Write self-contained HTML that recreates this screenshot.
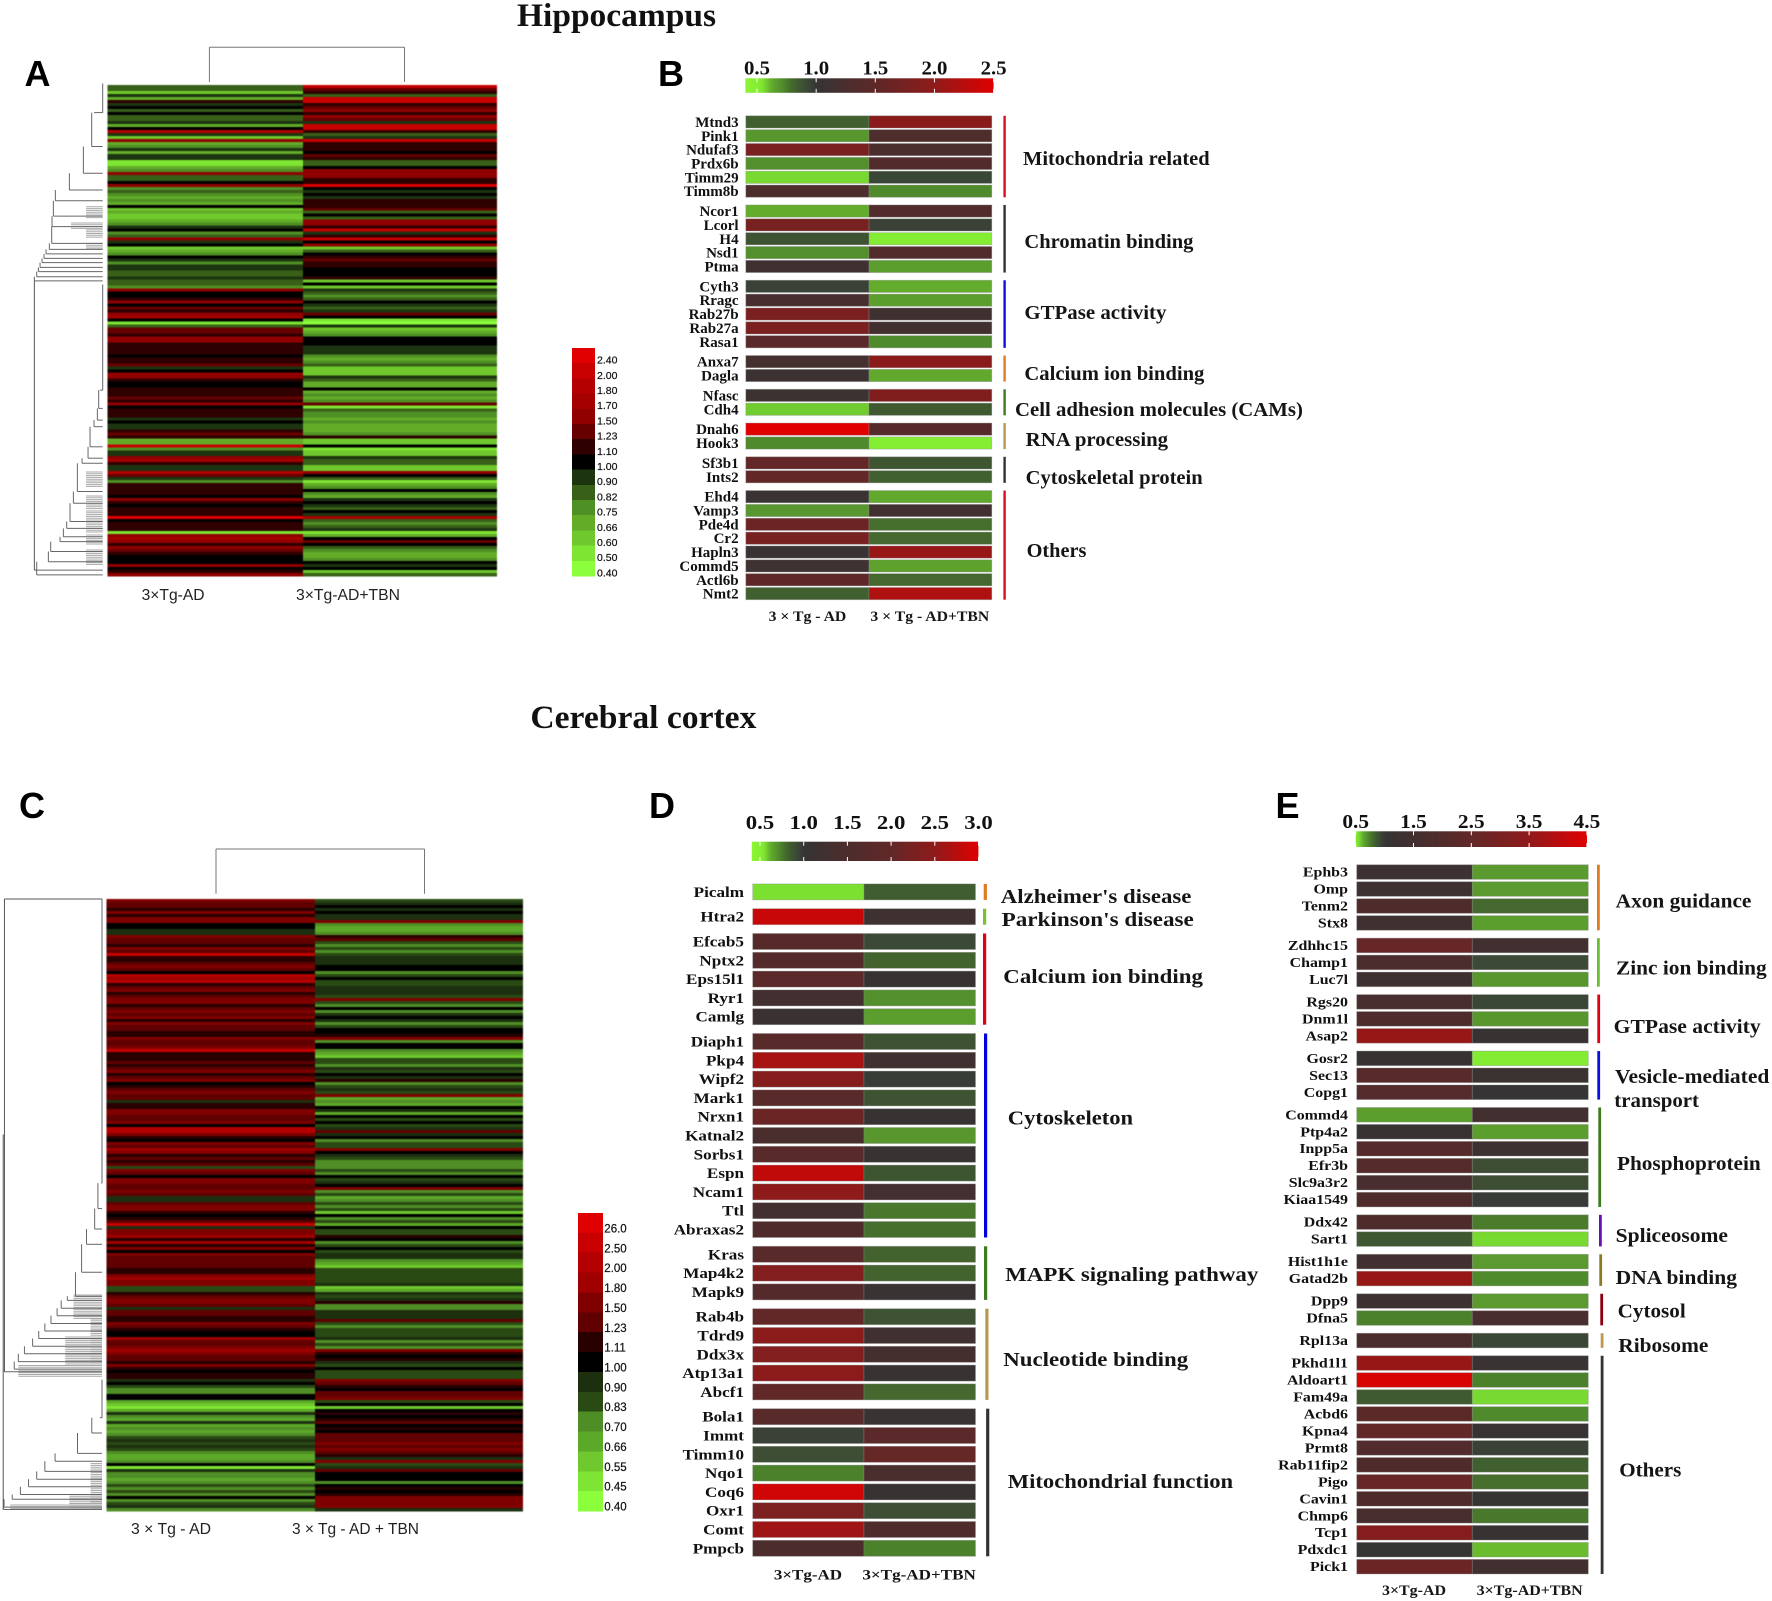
<!DOCTYPE html>
<html lang="en">
<head>
<meta charset="utf-8">
<title>Hippocampus and cerebral cortex expression heatmaps</title>
<style>
html,body{margin:0;padding:0;background:#fff;width:1772px;height:1601px;overflow:hidden}
svg{display:block}
.title{font:bold 33px "Liberation Serif",serif;fill:#111}
.letter{font:bold 36px "Liberation Sans",sans-serif;fill:#000}
.cat{font:bold 20px "Liberation Serif",serif;fill:#151515}
.foot{font:bold 14.5px "Liberation Serif",serif;fill:#151515}
.col{font:15.5px "Liberation Sans",sans-serif;fill:#222}
</style>
</head>
<body>
<svg id="figure" xmlns="http://www.w3.org/2000/svg" width="1772" height="1601" viewBox="0 0 1772 1601">
<rect x="0" y="0" width="1772" height="1601" fill="#fff"/>
<text class="title" x="517" y="26" textLength="199" lengthAdjust="spacingAndGlyphs">Hippocampus</text>
<text class="title" x="530.4" y="728" textLength="226" lengthAdjust="spacingAndGlyphs">Cerebral cortex</text>
<text class="letter" x="24.5" y="86">A</text>
<text class="letter" x="658" y="86">B</text>
<text class="letter" x="19" y="818">C</text>
<text class="letter" x="649" y="818">D</text>
<text class="letter" x="1275.5" y="818">E</text>

<text class="col" x="141.6" y="600" textLength="63" lengthAdjust="spacingAndGlyphs">3×Tg-AD</text>
<text class="col" x="296" y="600" textLength="104" lengthAdjust="spacingAndGlyphs">3×Tg-AD+TBN</text>
<text class="col" x="131" y="1534" textLength="80" lengthAdjust="spacingAndGlyphs">3 × Tg - AD</text>
<text class="col" x="292" y="1534" textLength="127" lengthAdjust="spacingAndGlyphs">3 × Tg - AD + TBN</text>

<g>
<text class="cat" x="1023" y="165" textLength="186.6" lengthAdjust="spacingAndGlyphs">Mitochondria related</text>
<text class="cat" x="1024.4" y="248" textLength="169" lengthAdjust="spacingAndGlyphs">Chromatin binding</text>
<text class="cat" x="1024.4" y="319" textLength="142" lengthAdjust="spacingAndGlyphs">GTPase activity</text>
<text class="cat" x="1024.4" y="380" textLength="180" lengthAdjust="spacingAndGlyphs">Calcium ion binding</text>
<text class="cat" x="1015" y="416" textLength="287.9" lengthAdjust="spacingAndGlyphs">Cell adhesion molecules (CAMs)</text>
<text class="cat" x="1025.7" y="446" textLength="142.4" lengthAdjust="spacingAndGlyphs">RNA processing</text>
<text class="cat" x="1025.7" y="484" textLength="177" lengthAdjust="spacingAndGlyphs">Cytoskeletal protein</text>
<text class="cat" x="1026.6" y="557" textLength="59.8" lengthAdjust="spacingAndGlyphs">Others</text>
<text class="foot" x="768.6" y="621" textLength="77.7" lengthAdjust="spacingAndGlyphs">3 × Tg - AD</text>
<text class="foot" x="870.4" y="621" textLength="118.8" lengthAdjust="spacingAndGlyphs">3 × Tg - AD+TBN</text>
</g>

<g>
<text class="cat" x="1000.8" y="903" textLength="190.6" lengthAdjust="spacingAndGlyphs">Alzheimer's disease</text>
<text class="cat" x="1001.6" y="926" textLength="192.2" lengthAdjust="spacingAndGlyphs">Parkinson's disease</text>
<text class="cat" x="1003.3" y="983" textLength="199.6" lengthAdjust="spacingAndGlyphs">Calcium ion binding</text>
<text class="cat" x="1007.8" y="1124.5" textLength="125.3" lengthAdjust="spacingAndGlyphs">Cytoskeleton</text>
<text class="cat" x="1005.3" y="1281" textLength="253" lengthAdjust="spacingAndGlyphs">MAPK signaling pathway</text>
<text class="cat" x="1003.3" y="1366" textLength="184.9" lengthAdjust="spacingAndGlyphs">Nucleotide binding</text>
<text class="cat" x="1007.8" y="1488" textLength="225.3" lengthAdjust="spacingAndGlyphs">Mitochondrial function</text>
<text class="foot" x="773.9" y="1579.5" textLength="68.2" lengthAdjust="spacingAndGlyphs">3×Tg-AD</text>
<text class="foot" x="862.4" y="1579.5" textLength="113.5" lengthAdjust="spacingAndGlyphs">3×Tg-AD+TBN</text>
</g>

<g>
<text class="cat" x="1615.7" y="907.5" textLength="135.7" lengthAdjust="spacingAndGlyphs">Axon guidance</text>
<text class="cat" x="1616" y="974.5" textLength="150.7" lengthAdjust="spacingAndGlyphs">Zinc ion binding</text>
<text class="cat" x="1613.7" y="1033" textLength="147" lengthAdjust="spacingAndGlyphs">GTPase activity</text>
<text class="cat" x="1615" y="1083" textLength="154.3" lengthAdjust="spacingAndGlyphs">Vesicle-mediated</text>
<text class="cat" x="1614.3" y="1107" textLength="84.7" lengthAdjust="spacingAndGlyphs">transport</text>
<text class="cat" x="1617" y="1170" textLength="143.7" lengthAdjust="spacingAndGlyphs">Phosphoprotein</text>
<text class="cat" x="1615.7" y="1242" textLength="112.3" lengthAdjust="spacingAndGlyphs">Spliceosome</text>
<text class="cat" x="1615.7" y="1284" textLength="121.3" lengthAdjust="spacingAndGlyphs">DNA binding</text>
<text class="cat" x="1617.7" y="1317.5" textLength="68" lengthAdjust="spacingAndGlyphs">Cytosol</text>
<text class="cat" x="1618.3" y="1352" textLength="90" lengthAdjust="spacingAndGlyphs">Ribosome</text>
<text class="cat" x="1619.3" y="1476.5" textLength="62" lengthAdjust="spacingAndGlyphs">Others</text>
<text class="foot" x="1382" y="1595" textLength="64" lengthAdjust="spacingAndGlyphs">3×Tg-AD</text>
<text class="foot" x="1476.7" y="1595" textLength="106" lengthAdjust="spacingAndGlyphs">3×Tg-AD+TBN</text>
</g>
</svg>

<script>
/* ---------- heatmap legends ---------- */
const heatColors = ['#e00000','#c80000','#b40000','#a40000','#900000','#660000','#2e0000','#000000','#1c3410','#386018','#4f9024','#62ac28','#6fc82c','#7ee632','#8cff3c'];
const cHeatColors = ['#e00000','#c80000','#b40000','#a00000','#800000','#600000','#280000','#000000','#1c3010','#2a4a14','#4f8e26','#5ca828','#6ec82e','#7ee632','#8cff3c'];
const aLegendLabels = ['2.40','2.00','1.80','1.70','1.50','1.23','1.10','1.00','0.90','0.82','0.75','0.66','0.60','0.50','0.40'];
const cLegendLabels = ['26.0','2.50','2.00','1.80','1.50','1.23','1.11','1.00','0.90','0.83','0.70','0.66','0.55','0.45','0.40'];

/* ---------- panel A heatmap rows ---------- */
const aControl = [.82,.82,.6,.9,.7,1.1,.9,1,.82,1,.82,.82,.9,.66,1,1.8,.9,.6,1.5,.66,.75,.9,.66,.9,.9,.5,.5,.66,.75,1.5,.82,.82,1,1.5,.75,.82,.75,.66,.75,.66,1,.6,.66,.6,.6,.66,.75,.9,1,.75,.82,1.5,.9,1,.6,.66,.75,1,.9,.75,.9,.9,.82,.82,.9,
.82,.82,.75,1.5,1,1,1.1,1.5,1,1.23,1.1,1.5,1.7,1,.5,.82,1.23,1.23,1.1,1.5,1.5,1.1,1.1,1.1,1.1,1,1.1,1.1,1.23,.9,1,1.5,1.5,1.1,1,1,1.1,1.1,1.1,1.23,1.1,1.5,1,1.1,1.1,1.1,.9,1,.9,.9,1.1,1.23,1.1,.66,.66,2,.75,.9,.9,1.5,1.7,1.1,.9,.9,1.8,1.23,.9,.75,1.1,1.1,1.1,1.1,1,1.5,1.1,1,1.1,1.1,1.1,2.4,1,1.1,1.1,1.1,.5,1.5,1.7,1.5,1.1,1.5,1.23,1.1,1,1,1,1.5,1,1.1,1.5];
const aTreated = [2,1.23,1.1,.82,2,2,1.1,1.23,1.5,1.1,1.5,1.23,.9,2,2,1.1,.82,.9,2,1.1,1.1,1.1,1,1.23,1.1,.82,.82,1,1.5,1.5,1.5,1.1,1.1,2.4,1,.9,1,.9,1.1,1.1,1.1,1.23,.82,1,.82,1.5,1.5,1.1,2,.9,1.1,2,1,1.5,.6,.82,1,1.1,1.23,1.1,1.1,1,1,1,1.1,
.6,1,.6,.9,.82,.75,.82,1,.9,.82,.9,1.23,1,.5,.4,.9,.6,.7,.75,1,1,1,.9,.9,.9,.75,.66,.75,.82,.6,.6,.6,.9,.82,.66,.7,1,.66,.75,.66,.75,1.23,.5,.82,.75,.75,.66,.75,.66,.7,.66,.75,1.1,.6,.6,1,.5,.6,.6,.9,.82,.82,.6,.6,1.5,1,.82,.45,.7,.75,1,.75,.66,.9,1,.9,.82,1,.9,1.7,.82,.75,.82,.9,.5,.7,1,1.23,1,.82,.75,.66,.7,.75,1,.9,1,.6,.82];

/* ---------- panel C heatmap rows ---------- */
const cControl = [1.5,1.23,1.23,1.1,1.5,1.1,1.5,1.5,1,1,.9,.9,1.5,1.23,1.23,1.1,1.5,1.23,2.4,1.1,1.1,1.23,1.5,1.23,1,2,1.8,2,1.1,1.23,1.5,1.1,1.23,1.5,1.5,1.1,1.23,1.5,1.23,1.5,1.1,1.5,1.23,1.23,1.1,1.1,1.5,1.23,1.23,1.5,2.4,1.1,1.1,1.1,1.23,1.1,1.23,1.5,1.1,1.23,1.5,1,1.1,1.23,1.5,1.23,1.23,.9,1.1,1.1,1.5,1.5,1.23,1.23,1.5,1,2,2,1.5,1.1,1,1.5,1.23,1.8,1.5,1.1,1.23,1.1,1.23,.83,1.5,1.23,1,1.5,1.5,1.23,1.23,
1.5,1.23,.9,.9,1.23,1.5,1.5,1.1,1,1.1,1.23,2.4,.9,1.5,1.5,1.8,1.1,1.8,1.1,1.5,1,1.5,1.23,1.23,1.23,1.23,1.1,1.1,1.5,1.8,1.5,1.5,.83,.83,1.1,1.23,1.5,1.5,1.23,.9,1.23,1.23,1.1,1.1,1.5,1.23,1.1,1,1,1.8,1.23,1.23,1.5,1.8,1.5,1.23,1.23,1.1,1.5,1.1,1,1.1,1.1,
.9,1,.83,.7,.7,1,1,.66,.55,.45,.66,.9,.7,.66,.9,.66,.7,.66,.7,.83,.9,.83,.9,.83,.7,.66,.66,.7,1,.45,.9,.7,.7,.66,.7,.83,.7,.83,.7,1,.7,.83,.9,.7];
const cTreated = [.83,.9,1,.9,1,.9,.9,1.5,.7,.66,.66,.7,1.1,1.23,.83,.7,.83,.7,.83,.9,.9,.9,1,1,.7,.83,1,.83,.83,.9,.9,.9,.83,1.5,.83,.7,1,.7,.9,1,.9,.7,.83,1,1,1.1,1.5,.7,1,1,.7,.66,.55,.83,.83,.7,.9,.83,1,.9,1.1,.7,.83,.9,.83,1.5,.66,.7,.66,1,.9,.66,1,.83,1,.83,.9,1.23,.9,1,.7,.83,.83,1.5,1,.9,.83,.7,.7,.7,.83,.7,1,.83,.9,1,1.5,
.7,.83,.66,.7,.83,.7,.83,.55,1,.7,.83,.66,1,.83,.83,1.1,1,.7,.83,1,.83,.9,.9,.7,.66,.55,.83,.83,.83,.83,.83,.9,.55,.66,.9,.83,.9,1.1,.7,.7,.9,.9,.9,1.23,.83,.7,.83,.83,.83,.9,.7,.83,.7,1.5,1.1,1,1.1,.9,.83,1,.83,.83,.83,
1.5,1.23,1.1,1,1.23,1.23,1.5,.83,1,.55,1,1.1,1,1.1,1.23,1,1.1,1,1.23,1.23,1.23,1.5,1.23,1.5,1.23,1.1,.9,1.5,.83,.9,1.23,1,1,1,.7,1,1.1,1,1.1,1.5,1.5,1.5,1.5,.9];

/* ---------- panel B ---------- */
const bTicks = ['0.5','1.0','1.5','2.0','2.5'];
const bGenes = [['Mtnd3','Pink1','Ndufaf3','Prdx6b','Timm29','Timm8b'],['Ncor1','Lcorl','H4','Nsd1','Ptma'],['Cyth3','Rragc','Rab27b','Rab27a','Rasa1'],['Anxa7','Dagla'],['Nfasc','Cdh4'],['Dnah6','Hook3'],['Sf3b1','Ints2'],['Ehd4','Vamp3','Pde4d','Cr2','Hapln3','Commd5','Actl6b','Nmt2']];
const bControl = [[.83,.68,1.8,.7,.56,1.3],[.62,1.75,.88,.7,1.12],[.95,1.22,1.8,1.8,1.45],[1.2,1.08],[1.08,.58],[2.5,.72],[1.55,1.55],[1.05,.68,1.65,1.75,1.05,1.1,1.5,.83]];
const bTreated = [[1.95,1.3,1.25,1.35,.93,.72],[1.35,.95,.53,1.35,.66],[.62,.66,1.12,1.15,.72],[1.95,.63],[1.85,.85],[1.4,.5],[.87,.83],[.63,1.15,.78,.8,2.05,.65,.8,2.2]];
const bGroupColors = ['#d8101c','#333333','#0a10e0','#e07b20','#3e7a20','#b89850','#333333','#d8101c'];

/* ---------- panel D ---------- */
const dTicks = ['0.5','1.0','1.5','2.0','2.5','3.0'];
const dGenes = [['Picalm'],['Htra2'],['Efcab5','Nptx2','Eps15l1','Ryr1','Camlg'],['Diaph1','Pkp4','Wipf2','Mark1','Nrxn1','Katnal2','Sorbs1','Espn','Ncam1','Ttl','Abraxas2'],['Kras','Map4k2','Mapk9'],['Rab4b','Tdrd9','Ddx3x','Atp13a1','Abcf1'],['Bola1','Immt','Timm10','Nqo1','Coq6','Oxr1','Comt','Pmpcb']];
const dControl = [[.55],[2.85],[1.75,1.7,1.85,1.3,1.1],[1.8,2.65,2.4,1.8,2.1,1.45,1.8,2.8,2.5,1.3,1.6],[1.8,2.35,1.7],[2,2.45,2.35,2.45,2],[1.8,.95,.9,.74,2.9,2.3,2.6,1.5]];
const dTreated = [[.84],[1.2],[.92,.82,1.05,.7,.66],[.88,1.25,.97,.88,1.05,.68,1.05,.87,1.3,.76,.78],[.82,.82,1.08],[.88,1.25,1.35,1.05,.8],[1.08,1.85,2.05,1.45,1.05,.9,1.6,.74]];
const dGroupColors = ['#e07b20','#7ac030','#e00010','#0000e0','#3e7a20','#b89850','#333333'];

/* ---------- panel E ---------- */
const eTicks = ['0.5','1.5','2.5','3.5','4.5'];
const eGenes = [['Ephb3','Omp','Tenm2','Stx8'],['Zdhhc15','Champ1','Luc7l'],['Rgs20','Dnm1l','Asap2'],['Gosr2','Sec13','Copg1'],['Commd4','Ptp4a2','Inpp5a','Efr3b','Slc9a3r2','Kiaa1549'],['Ddx42','Sart1'],['Hist1h1e','Gatad2b'],['Dpp9','Dfna5'],['Rpl13a'],['Pkhd1l1','Aldoart1','Fam49a','Acbd6','Kpna4','Prmt8','Rab11fip2','Pigo','Cavin1','Chmp6','Tcp1','Pdxdc1','Pick1']];
const eControl = [[1.35,1.3,1.9,1.4],[2.6,1.8,1.3],[1.7,1.9,3.6],[1.08,2.2,2.1],[.66,1.1,2.1,2.1,1.7,1.9],[1.9,.86],[1.5,3.6],[1.3,.74],[1.8],[3.6,4.4,.85,2.3,2.5,2,1.9,2.6,1.9,1.7,3.3,1.05,2.7]];
const eTreated = [[.67,.67,.8,.66],[1.5,.92,.68],[.93,.68,1.1],[.53,1.2,1.02],[1.5,.66,1.35,.9,.9,.97],[.75,.56],[.67,.72],[.67,1.7],[.93],[1.15,.74,.56,.72,1.1,.95,.83,.78,1.05,.76,1.1,.6,1.5]];
const eGroupColors = ['#e07b20','#6abf30','#e00010','#0a10e0','#3e7a20','#6a10b0','#8a7a20','#8a0010','#c09850','#333333'];

/* ---------- expression colour ramps ---------- */
const greenRampValues = [.4,.53,.57,.62,.67,.72,.78,.85,.95,1];
const greenRampColors = ['#8cf532','#84ec32','#74d430','#63ac2c','#5a9a2e','#4f8a2c','#466e2c','#3f5a30','#3a4238','#363434'];
const bRedValues = [1.5,2,2.5];
const bRedColors = ['#5e2828','#8f1a1a','#e00000'];
const dRedValues = [1.5,2,2.5,3];
const dRedColors = ['#4c2c2c','#622828','#8f1a1a','#e00000'];
const eRedValues = [1.5,2.5,3.5,4.5];
const eRedColors = ['#422f2f','#622828','#8f1a1a','#e00000'];

/* ---------- dendrogram merge tables (row index, merge distance) ---------- */
const aTopRows = [9.2,20.5,29.4,35,38.6,43.7,47.2,52.8,54.8,56.3,57.8,59.2,60.8,62.2,63.9,65.3];
const aTopDists = [26,33,58,100,142,148,152,153,160,170,176,182,188,193,198,205];
const aLowRows = [101.7,107.8,111.7,113.9,120.6,124.4,126.1,135.5,139.4,145.5,147.8,150.6,152.2,155.5,158.9,161.7,163.3];
const aLowDists = [8,12,16,26,38,44,62,76,88,98,108,118,128,156,163,198,198];
const aDenseStart = [40.6,46,48.3,52.8,129,137,142,146,150,155];
const aDenseEnd = [44.4,48,51,55,134,141.7,145,149,153,160];
const aDenseDist = [50,95,50,50,50,50,50,50,50,50];
const cTopRows = [94.7,103.2,110,115.1,124.4,132.4,133.8,136.4,138.9,141.5,144,146.5,149.1,151.6,154.2,156.7,157.6];
const cTopDists = [2,10,18,38,50,65,85,100,110,125,140,155,170,190,205,215,239];
const cLowRows = [172.9,178,184.8,187.4,190.8,193.4,195.9,198.5,200.1,202.7,203.5];
const cLowDists = [5,25,60,115,140,160,180,200,220,240,242];
const cDenseStart = [132,140,146,155.5,188.2,198.5,202];
const cDenseEnd = [140,155.5,155,159.5,203.5,203.5,203.5];
const cDenseDist = [70,28,90,205,28,80,225];

/* ---------- helpers ---------- */
const NS = 'http://www.w3.org/2000/svg';
const figure = document.getElementById('figure');
function group(name) {
  const g = document.createElementNS(NS, 'g');
  
  
  figure.appendChild(g);
  return g;
}
function rect(parent, x, y, w, h, fill) {
  const r = document.createElementNS(NS, 'rect');
  r.setAttribute('x', x); r.setAttribute('y', y);
  r.setAttribute('width', w); r.setAttribute('height', h);
  r.setAttribute('fill', fill);
  parent.appendChild(r);
  return r;
}
function line(parent, x1, y1, x2, y2, stroke) {
  const l = document.createElementNS(NS, 'line');
  l.setAttribute('x1', x1); l.setAttribute('y1', y1);
  l.setAttribute('x2', x2); l.setAttribute('y2', y2);
  l.setAttribute('stroke', stroke);
  l.setAttribute('stroke-width', 1);
  parent.appendChild(l);
  return l;
}
function text(parent, x, y, str, size, family, weight, anchor, sx) {
  const t = document.createElementNS(NS, 'text');
  t.setAttribute('transform', 'translate(' + x + ' ' + y + ') scale(' + sx + ' 1)');
  t.setAttribute('font-family', family);
  t.setAttribute('font-size', size);
  t.setAttribute('font-weight', weight);
  t.setAttribute('text-anchor', anchor);
  t.setAttribute('fill', '#111');
  t.textContent = str;
  parent.appendChild(t);
  return t;
}
const SERIF = '"Liberation Serif", serif';
const SANS = '"Liberation Sans", sans-serif';

function hexToRgb(h) { return [parseInt(h.slice(1,3),16), parseInt(h.slice(3,5),16), parseInt(h.slice(5,7),16)]; }
function mix(a, b, t) {
  const A = hexToRgb(a), B = hexToRgb(b);
  return 'rgb(' + A.map((v,i) => Math.round(v + (B[i]-v)*t)).join(',') + ')';
}
function ramp(values, colors, v) {
  if (v <= values[0]) return colors[0];
  for (let i = 1; i < values.length; i++) {
    if (v <= values[i]) return mix(colors[i-1], colors[i], (v-values[i-1])/(values[i]-values[i-1]));
  }
  return colors[colors.length-1];
}
function colorScale(redValues, redColors) {
  const vs = greenRampValues.concat(redValues);
  const cs = greenRampColors.concat(redColors);
  return v => ramp(vs, cs, v);
}
function levelColor(labels, colors, v) {
  let best = 0, dist = Infinity;
  labels.forEach((l, i) => {
    const d = Math.abs(Number(l) - v);
    if (d < dist) { dist = d; best = i; }
  });
  return colors[best];
}

/* ---------- big heatmaps ---------- */
function drawHeatmap(name, left, mid, right, top, bottom, control, treated, labels, colors) {
  const g = group(name);
  g.setAttribute('style', 'filter:blur(.6px)');
  const n = control.length;
  const rowH = (bottom - top) / n;
  const yScale = i => top + rowH * i;
  control.forEach((v, i) => {
    const cell = rect(g, left, yScale(i), mid - left, rowH + .4, levelColor(labels, colors, v));
    cell.setAttribute('shape-rendering', 'crispEdges');
    
    
  });
  treated.forEach((v, i) => {
    const cell = rect(g, mid, yScale(i), right - mid, rowH + .4, levelColor(labels, colors, v));
    cell.setAttribute('shape-rendering', 'crispEdges');
    
    
  });
}
drawHeatmap('panel-a-heatmap', 107.3, 303, 497, 85, 576, aControl, aTreated, aLegendLabels, heatColors);
drawHeatmap('panel-c-heatmap', 106.7, 315, 523, 899, 1511, cControl, cTreated, cLegendLabels, cHeatColors);

/* ---------- stepped legends ---------- */
function drawLegend(name, x, w, top, bottom, labels, colors, labelX, size, labelShift) {
  const g = group(name);
  const h = (bottom - top) / labels.length;
  labels.forEach((lab, i) => {
    const swatch = rect(g, x, top + i*h, w, h + .3, colors[i]);
    swatch.setAttribute('shape-rendering', 'crispEdges');
    
    
    const t = text(g, labelX, top + i*h + h/2 + labelShift, lab, size, SANS, 'normal', 'start', 1);
    t.setAttribute('stroke', '#111');
    t.setAttribute('stroke-width', '.2');
    
    
  });
}
drawLegend('panel-a-legend', 572, 23, 348, 576, aLegendLabels, heatColors, 597, 10.5, 8);
drawLegend('panel-c-legend', 578, 25, 1213, 1511, cLegendLabels, cHeatColors, 604.3, 11.5, 9.5);

/* ---------- dendrograms ---------- */
function ladder(g, X, Y, startRow, rows, dists, stroke) {
  let prevY = Y(startRow);
  rows.forEach((r, i) => {
    const x = X(dists[i]), y = Y(r);
    const v = line(g, x, prevY, x, y, stroke);
    
    
    const h = line(g, x, y, X(0), y, stroke);
    
    
    prevY = y;
  });
}
function dense(g, X, Y, starts, ends, dists) {
  starts.forEach((s, i) => {
    for (let r = s; r < ends[i]; r += .6) {
      const leaf = line(g, X(dists[i]), Y(r), X(0), Y(r), '#a8a8a8');
      
      
    }
  });
}
function bracket(name, x1, x2, top, bottom) {
  const g = group(name);
  const a = line(g, x1, top, x2, top, '#777');
  
  
  const b = line(g, x1, top, x1, bottom, '#777');
  
  
  const c = line(g, x2, top, x2, bottom, '#777');
  
  
}
(function () {
  const g = group('panel-a-row-dendrogram');
  const X = d => 102.7 - d/3;
  const Y = r => 85 + 3*r;
  dense(g, X, Y, aDenseStart, aDenseEnd, aDenseDist);
  const v0 = line(g, X(0), Y(-.5), X(0), Y(aTopRows[0]), '#666');
  
  
  ladder(g, X, Y, aTopRows[0], aTopRows, aTopDists, '#666');
  const v1 = line(g, X(0), Y(66.5), X(0), Y(aLowRows[0]), '#666');
  
  
  ladder(g, X, Y, aLowRows[0], aLowRows, aLowDists, '#666');
  const root = line(g, X(205), Y(aTopRows[aTopRows.length-1]), X(205), Y(161.7), '#555');
  
  
  const join = line(g, X(205), Y(161.7), X(198), Y(161.7), '#555');
  
  
})();
(function () {
  const g = group('panel-c-row-dendrogram');
  const X = d => 102 - d/2.45;
  const Y = r => 899 + 3*r;
  dense(g, X, Y, cDenseStart, cDenseEnd, cDenseDist);
  const v0 = line(g, X(0), Y(0), X(0), Y(cTopRows[0]), '#666');
  
  
  ladder(g, X, Y, cTopRows[0], cTopRows, cTopDists, '#666');
  const box = line(g, X(239), Y(0), X(0), Y(0), '#555');
  
  
  const boxLeft = line(g, X(239), Y(0), X(239), Y(157.6), '#555');
  
  
  const v1 = line(g, X(0), Y(160.2), X(0), Y(cLowRows[0]), '#666');
  
  
  ladder(g, X, Y, cLowRows[0], cLowRows, cLowDists, '#666');
  const root = line(g, X(242), Y(78.5), X(242), Y(203.5), '#555');
  
  
})();
bracket('panel-a-column-dendrogram', 209.4, 404.5, 47.3, 82);
bracket('panel-c-column-dendrogram', 216, 424.5, 849, 893.8);

/* ---------- gene panels ---------- */
let gradientId = 0;
function drawColorbar(name, color, ticks, x0, xStep, left, right, top, bottom, labelY, labelSx) {
  const g = group(name);
  const X = v => x0 + (v - Number(ticks[0])) * xStep;
  const V = x => Number(ticks[0]) + (x - x0) / xStep;
  const id = 'bar-gradient-' + (gradientId++);
  const grad = document.createElementNS(NS, 'linearGradient');
  grad.setAttribute('id', id);
  for (let k = 0; k <= 60; k++) {
    const s = document.createElementNS(NS, 'stop');
    s.setAttribute('offset', k/60);
    s.setAttribute('stop-color', color(V(left + (right-left)*k/60)));
    grad.appendChild(s);
  }
  const defs = document.createElementNS(NS, 'defs');
  defs.appendChild(grad);
  g.appendChild(defs);
  const bar = rect(g, left, top, right - left, bottom - top, 'url(#' + id + ')');
  
  
  ticks.forEach(tk => {
    const x = X(Number(tk));
    const t1 = line(g, x, top, x, top + 4, '#fff');
    
    
    const t2 = line(g, x, bottom - 4, x, bottom, '#fff');
    
    
    const lab = text(g, x, labelY, tk, 20, SERIF, 'bold', 'middle', labelSx);
    
    
  });
}
function drawGenePanel(name, genes, control, treated, groupColors, color, o) {
  const g = group(name);
  let y = o.startY;
  genes.forEach((grp, gi) => {
    const firstY = y;
    let lastY = y;
    grp.forEach((gene, i) => {
      const top = y - o.rowH/2;
      const c1 = rect(g, o.left, top, o.mid - o.left, o.rowH, color(control[gi][i]));
      c1.setAttribute('stroke', 'rgba(140,140,140,.45)');
      c1.setAttribute('stroke-width', '.8');
      
      
      const c2 = rect(g, o.mid, top, o.right - o.mid, o.rowH, color(treated[gi][i]));
      c2.setAttribute('stroke', 'rgba(140,140,140,.45)');
      c2.setAttribute('stroke-width', '.8');
      
      
      const lab = text(g, o.labelX, y + o.labelShift, gene, o.font, SERIF, 'bold', 'end', o.sx);
      
      
      lastY = y;
      y += o.pitch;
    });
    y += o.gap - o.pitch;
    const bx = o.bracketX[gi];
    const br = rect(g, bx, firstY - o.rowH/2, o.bracketW, lastY - firstY + o.rowH, groupColors[gi]);
    
    
  });
}

const bColor = colorScale(bRedValues, bRedColors);
const dColor = colorScale(dRedValues, dRedColors);
const eColor = colorScale(eRedValues, eRedColors);

drawColorbar('panel-b-colorbar', bColor, bTicks, 757, 118.3, 745.4, 993.6, 78.3, 92.8, 74.5, 1.04);
drawColorbar('panel-d-colorbar', dColor, dTicks, 760, 87.4, 751.8, 978.4, 841.7, 861, 829, 1.14);
drawColorbar('panel-e-colorbar', eColor, eTicks, 1355.7, 57.8, 1355.7, 1587, 831.3, 847, 828, 1.07);

const bBracketX = [1003.4,1003.4,1003.4,1003.4,1003.4,1003.4,1003.4,1003.4];
const dBracketX = [983.7,983,983,984,984,985.3,986.1];
const eBracketX = [1597,1597,1597.3,1597.3,1598.3,1599,1599.3,1600.3,1600.7,1600.7];

drawGenePanel('panel-b-genes', bGenes, bControl, bTreated, bGroupColors, bColor,
  {startY:121.9, pitch:13.85, gap:19.9, rowH:12.2, left:745.8, mid:869, right:991.8, labelX:738.6, labelShift:5, font:15, sx:1, bracketX:bBracketX, bracketW:2.4});
drawGenePanel('panel-d-genes', dGenes, dControl, dTreated, dGroupColors, dColor,
  {startY:891.9, pitch:18.8, gap:24.8, rowH:16, left:752.7, mid:864, right:975.5, labelX:744, labelShift:5, font:15, sx:1.14, bracketX:dBracketX, bracketW:3.2});
drawGenePanel('panel-e-genes', eGenes, eControl, eTreated, eGroupColors, eColor,
  {startY:872.05, pitch:16.97, gap:22.5, rowH:14.6, left:1356.7, mid:1472.3, right:1588.3, labelX:1348, labelShift:4.5, font:13.5, sx:1.18, bracketX:eBracketX, bracketW:2.8});
</script>
</body>
</html>
